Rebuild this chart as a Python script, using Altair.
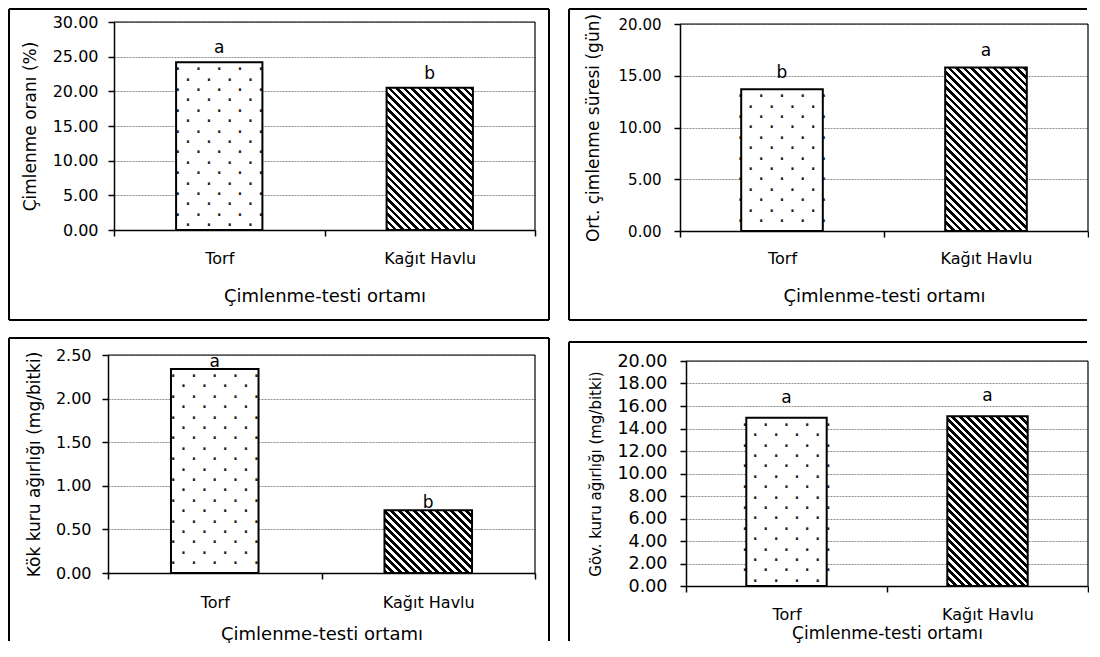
import altair as alt
import numpy as np
import pandas as pd

# ---------------- data ----------------
categories = ["Torf", "Kağıt Havlu"]
germination_rate = [24.2, 20.5]
germination_time = [13.7, 15.8]
root_dry_weight = [2.34, 0.72]
shoot_dry_weight = [14.95, 15.1]
letters_rate = ["a", "b"]
letters_time = ["b", "a"]
letters_root = ["a", "b"]
letters_shoot = ["a", "a"]

rate_ticks = [0, 5, 10, 15, 20, 25, 30]
time_ticks = [0, 5, 10, 15, 20]
root_ticks = [0, 0.5, 1.0, 1.5, 2.0, 2.5]
shoot_ticks = [0, 2, 4, 6, 8, 10, 12, 14, 16, 18, 20]

x_title = "Çimlenme-testi ortamı"
y_title_rate = "Çimlenme oranı (%)"
y_title_time = "Ort. çimlenme süresi (gün)"
y_title_root = "Kök kuru ağırlığı (mg/bitki)"
y_title_shoot = "Göv. kuru ağırlığı (mg/bitki)"

FONT = "DejaVu Sans"
MONO = "DejaVu Sans Mono"

# ---------------- layout / styles (page coordinates) ----------------
# origin: page (x, y) of the panel's view origin (shared per row / per column)
# plot: page (left, top, right, bottom) of the plotting area
P1 = dict(origin=(109, 23), plot=(115, 23, 536, 231),
          box=(10, 10, 550, 321), sides="ltrb", band=0.41,
          ylab_fs=16, ylab_pad=10, yt_fs=17, yt_x=31, xlab_fs=16, xlab_off=33,
          xt_fs=18, xt_base=302, lab_dy=-9)
P2 = dict(origin=(683, 23), plot=(683, 25, 1091, 232),
          box=(572, 10, 1090, 321), sides="ltb", band=0.40,
          ylab_fs=15, ylab_pad=13, yt_fs=17, yt_x=596, xlab_fs=16, xlab_off=32,
          xt_fs=18, xt_base=302, lab_dy=-11)
P3 = dict(origin=(109, 358), plot=(109, 358, 536, 576),
          box=(10, 341, 550, 644), sides="ltr", band=0.41,
          ylab_fs=16, ylab_pad=11, yt_fs=17, yt_x=35, xlab_fs=16, xlab_off=34,
          xt_fs=18, xt_base=642, lab_dy=-2)
P4 = dict(origin=(689, 358), plot=(689, 364, 1091, 589),
          box=(572, 345, 1090, 644), sides="lt", band=0.40,
          ylab_fs=17.5, ylab_pad=13, yt_fs=15, yt_x=598, xlab_fs=16, xlab_off=33,
          xt_fs=17, xt_base=641, lab_dy=-15)

TICK = 6


def stripe_fill(w, h, period=7.5):
    """Diagonal black/white hatch as a linear gradient in bbox units."""
    k = (1 / h + 1 / w) / (1 / h ** 2 + 1 / w ** 2)
    x2 = k / h
    y2 = 1 - k / w
    n = (w + h) / period
    stops = []
    m = int(np.ceil(n))
    for i in range(m):
        a = i / n
        b = min((i + 0.5) / n, 1.0)
        c = min((i + 1) / n, 1.0)
        stops += [
            {"offset": round(a, 5), "color": "#000000"},
            {"offset": round(b, 5), "color": "#000000"},
            {"offset": round(b, 5), "color": "#ffffff"},
            {"offset": round(c, 5), "color": "#ffffff"},
        ]
    return {"gradient": "linear", "x1": 0, "y1": 1, "x2": round(x2, 5),
            "y2": round(y2, 5), "stops": stops}


def dot_lines(h, spacing=10.4):
    n = int((h - 11) // spacing) + 1
    return ["· · · · ·" if i % 2 == 0 else "· · · ·" for i in range(n)]


def panel(values, letters, ticks, ymax, ytitle, s):
    ox, oy = s["origin"]
    pl, pt, pr, pb = s["plot"]
    xl, xr = pl - ox, pr - ox          # x range inside the view
    yt, yb = pt - oy, pb - oy          # y range inside the view
    W, H = xr, yb                      # view size
    pw, ph = xr - xl, yb - yt
    bx0, by0, bx1, by1 = s["box"]
    bl, bt, br, bb = bx0 - ox, by0 - oy, bx1 - ox, by1 - oy
    df = pd.DataFrame({"cat": categories, "val": values, "lab": letters})

    x = alt.X(
        "cat:N", sort=categories,
        scale=alt.Scale(range=[xl, xr], paddingInner=0, paddingOuter=0),
        axis=alt.Axis(title=x_title, labelAngle=0, tickBand="extent", grid=False,
                      labelFontSize=s["xlab_fs"], labelBaseline="alphabetic",
                      labelPadding=s["xlab_off"] - TICK, titleFontSize=s["xt_fs"],
                      titleBaseline="alphabetic", titleY=s["xt_base"] - pb),
    )
    yaxis = dict(title=ytitle, values=ticks, format=".2f", grid=True,
                 labelFontSize=s["ylab_fs"], labelPadding=s["ylab_pad"],
                 labelOverlap=False, labelFlush=False,
                 titleFontSize=s["yt_fs"], titleAngle=270, titleAlign="center",
                 titleBaseline="middle", titleX=s["yt_x"] - pl,
                 titleY=(yt + yb) / 2)
    if xl != 0:
        yaxis["offset"] = -xl
    y = alt.Y(
        "val:Q",
        scale=alt.Scale(domain=[0, ymax], range=[yb, yt], nice=False),
        axis=alt.Axis(**yaxis),
    )
    base = alt.Chart(df).encode(x=x, y=y)
    torf = base.transform_filter(alt.datum.cat == categories[0])
    kagit = base.transform_filter(alt.datum.cat == categories[1])

    band = s["band"]
    bw = band * pw / 2
    h_t = values[0] / ymax * ph
    h_k = values[1] / ymax * ph

    layers = [
        torf.mark_bar(width={"band": band}, fill="white", strokeWidth=0),
        torf.mark_text(font=MONO, fontSize=17.3, lineHeight=10.4, baseline="alphabetic",
                       align="center", dy=13, color="#222222").encode(
            text=alt.value(dot_lines(h_t))),
        torf.mark_bar(width={"band": band}, fillOpacity=0, stroke="black", strokeWidth=2),
        kagit.mark_bar(width={"band": band}, fill=stripe_fill(bw, h_k),
                       stroke="black", strokeWidth=2),
        base.mark_text(font=FONT, fontSize=17, baseline="alphabetic", align="center",
                       dy=s["lab_dy"], color="black").encode(text="lab:N"),
    ]

    one = alt.Chart(pd.DataFrame({"k": [0]}))
    # plot-area frame (top and right edges)
    frame = dict(color="black", strokeWidth=1.2)
    layers.append(one.mark_rule(**frame).encode(
        x=alt.value(xl), x2=alt.value(xr), y=alt.value(yt)))
    layers.append(one.mark_rule(**frame).encode(
        x=alt.value(xr), y=alt.value(yt), y2=alt.value(yb)))

    # outer panel box
    rule = dict(color="black", strokeWidth=2)
    sides = s["sides"]
    if "l" in sides:
        layers.append(one.mark_rule(**rule).encode(
            x=alt.value(bl), y=alt.value(bt), y2=alt.value(bb)))
    if "t" in sides:
        layers.append(one.mark_rule(**rule).encode(
            x=alt.value(bl), x2=alt.value(br), y=alt.value(bt)))
    if "r" in sides:
        layers.append(one.mark_rule(**rule).encode(
            x=alt.value(br), y=alt.value(bt), y2=alt.value(bb)))
    if "b" in sides:
        layers.append(one.mark_rule(**rule).encode(
            x=alt.value(bl), x2=alt.value(br), y=alt.value(bb)))

    return alt.layer(*layers).properties(width=W, height=H)


p1 = panel(germination_rate, letters_rate, rate_ticks, 30, y_title_rate, P1)
p2 = panel(germination_time, letters_time, time_ticks, 20, y_title_time, P2)
p3 = panel(root_dry_weight, letters_root, root_ticks, 2.5, y_title_root, P3)
p4 = panel(shoot_dry_weight, letters_shoot, shoot_ticks, 20, y_title_shoot, P4)

row1 = alt.hconcat(p1, p2, spacing=18)
row2 = alt.hconcat(p3, p4, spacing=18)

chart = alt.vconcat(row1, row2, spacing=16).properties(
    padding=0, background="white"
).configure_axis(
    labelFont=FONT, titleFont=FONT, labelColor="black", titleColor="black",
    titleFontWeight="normal", domainColor="black", domainWidth=1.5,
    tickColor="black", tickWidth=1.5, tickSize=TICK,
    gridColor="#8c8c8c", gridDash=[2, 1], gridWidth=1,
).configure_view(stroke="transparent", strokeWidth=0)

chart.save("out.html", embed_options={"renderer": "svg", "actions": False})
